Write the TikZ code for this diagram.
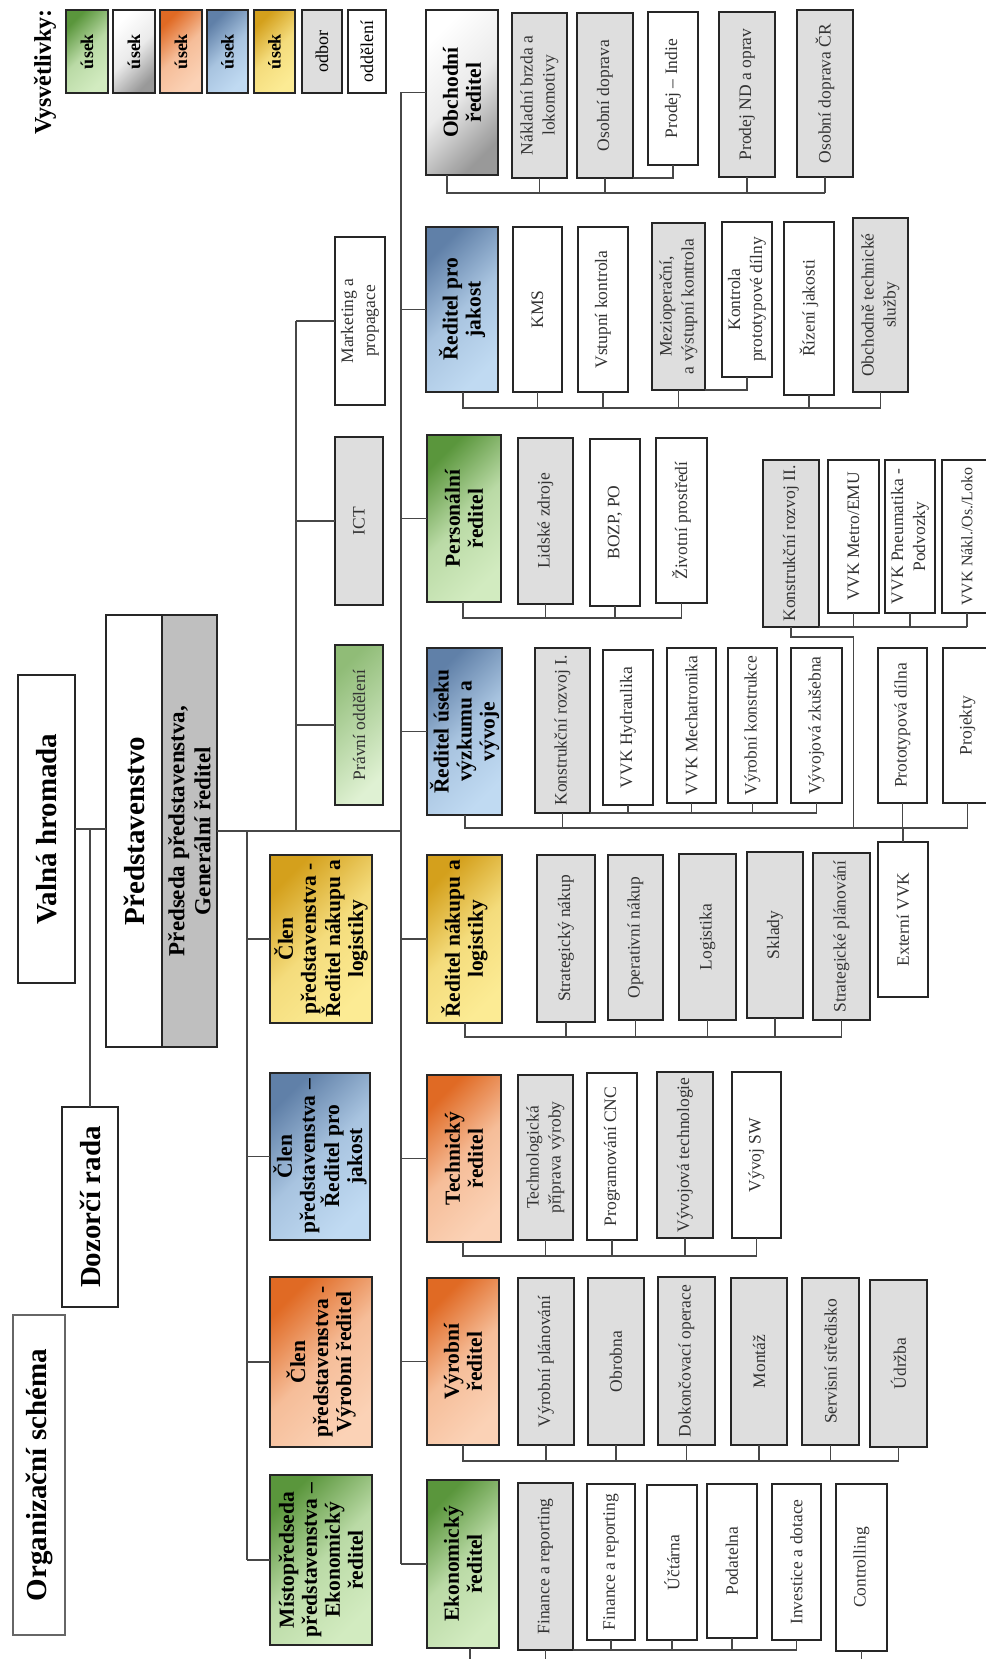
\documentclass[tikz,border=0pt]{standalone}
\usepackage{fontspec}
\setmainfont{Liberation Serif}
\usetikzlibrary{calc}
\definecolor{gD}{HTML}{5A963C}\definecolor{gL}{HTML}{D2EBC0}
\definecolor{oD}{HTML}{E06A24}\definecolor{oL}{HTML}{FBD2B6}
\definecolor{bD}{HTML}{6080A8}\definecolor{bL}{HTML}{C0DAF2}
\definecolor{yD}{HTML}{D4A01C}\definecolor{yL}{HTML}{FCEB94}
\definecolor{odb}{HTML}{DEDEDE}
\newcommand{\BX}[7]{\node[#6, rotate=90, minimum width={#5pt-#3pt}, minimum height={#4pt-#2pt}] (#1) at ({(#2+#4)/2},{(#3+#5)/2}) {#7};}
\tikzset{
  box/.style={draw=black!85, inner sep=0pt, outer sep=0pt, align=center},
  title/.style={box, line width=2.2pt, font=\bfseries\fontsize{29}{32}\selectfont},
  dir/.style={box, line width=2.2pt, font=\bfseries\fontsize{21.5}{23}\selectfont},
  sub/.style={box, line width=1.9pt, font=\fontsize{17.5}{22}\selectfont, text=black!80},
  odbor/.style={sub, fill=odb},
  odd/.style={sub, fill=white},
  leg/.style={box, line width=2pt, font=\fontsize{18}{20}\selectfont},
  shG/.style={top color=gD, bottom color=gL, middle color=gL!80!gD, shading angle=45},
  shO/.style={top color=oD, bottom color=oL, middle color=oL!80!oD, shading angle=45},
  shB/.style={top color=bD, bottom color=bL, middle color=bL!75!bD, shading angle=45},
  shY/.style={top color=yD, bottom color=yL, middle color=yL!80!yD, shading angle=45},
  shW/.style={top color=white, bottom color=black!40, middle color=black!8, shading angle=45},
  shGl/.style={top color=gD!55!gL, bottom color=gL!70!white, shading angle=45},
  ln/.style={draw=black!72, line width=1.5pt},
}
\begin{document}
\begin{tikzpicture}[x=1pt, y=-1pt]
\useasboundingbox (0,0) rectangle (985,1659);
\fill[white] (0,0) rectangle (985,1659);
% legend
\node[rotate=90, font=\bfseries\fontsize{24}{26}\selectfont] (vys) at (45,72) {Vysvětlivky:};
\BX{lg1}{66}{10}{108}{93}{leg, shG}{\bfseries úsek}
\BX{lg2}{113}{10}{155}{93}{leg, shW}{\bfseries úsek}
\BX{lg3}{160}{10}{202}{93}{leg, shO}{\bfseries úsek}
\BX{lg4}{207}{10}{248}{93}{leg, shB}{\bfseries úsek}
\BX{lg5}{254}{10}{295}{93}{leg, shY}{\bfseries úsek}
\BX{lg6}{302}{10}{342}{93}{leg, fill=odb}{odbor}
\BX{lg7}{348}{10}{386}{93}{leg, fill=white}{oddělení}
% top level
\BX{org}{13}{1315}{65}{1635}{title, draw=black!60, line width=1.5pt}{Organizační schéma}
\BX{vh}{18}{675}{75}{983}{title}{Valná hromada}
\BX{dr}{62}{1107}{118}{1307}{title}{Dozorčí rada}
\BX{pred}{106}{615}{162}{1047}{title, fill=white}{Představenstvo}
\BX{gr}{162}{615}{217}{1047}{box, line width=2.2pt, fill=black!25, font=\bfseries\fontsize{23}{26}\selectfont}{Předseda představenstva,\\ Generální ředitel}
% staff
\BX{mkt}{335}{237}{385}{405}{odd}{Marketing a\\ propagace}
\BX{ict}{335}{437}{383}{605}{odbor}{ICT}
\BX{prav}{335}{645}{383}{805}{sub, shGl}{Právní oddělení}
% board members
\BX{cNak}{270}{855}{372}{1023}{dir, shY}{Člen\\ představenstva -\\ Ředitel nákupu a\\ logistiky}
\BX{cJak}{270}{1073}{370}{1240}{dir, shB}{Člen\\ představenstva –\\ Ředitel pro\\ jakost}
\BX{cVyr}{270}{1277}{372}{1447}{dir, shO}{Člen\\ představenstva -\\ Výrobní ředitel}
\BX{cMis}{270}{1475}{372}{1645}{dir, shG}{Místopředseda\\ představenstva –\\ Ekonomický\\ ředitel}
% directors
\BX{obch}{426}{10}{498}{175}{dir, shW}{Obchodní\\ ředitel}
\BX{jak}{426}{227}{498}{392}{dir, shB}{Ředitel pro\\ jakost}
\BX{pers}{427}{435}{501}{602}{dir, shG}{Personální\\ ředitel}
\BX{vyz}{427}{648}{502}{815}{dir, shB}{Ředitel úseku\\ výzkumu a\\ vývoje}
\BX{nak}{427}{855}{502}{1023}{dir, shY}{Ředitel nákupu a\\ logistiky}
\BX{tech}{427}{1075}{501}{1242}{dir, shO}{Technický\\ ředitel}
\BX{vyr}{427}{1278}{499}{1445}{dir, shO}{Výrobní\\ ředitel}
\BX{eko}{427}{1480}{499}{1648}{dir, shG}{Ekonomický\\ ředitel}
% Obchodni
\BX{o1}{512}{13}{567}{178}{odbor}{Nákladní brzda a\\ lokomotivy}
\BX{o2}{577}{13}{633}{178}{odbor}{Osobní doprava}
\BX{o3}{648}{12}{698}{165}{odd}{Prodej – Indie}
\BX{o4}{719}{12}{775}{177}{odbor}{Prodej ND a oprav}
\BX{o5}{797}{10}{853}{177}{odbor}{Osobní doprava ČR}
% jakost
\BX{j1}{513}{227}{562}{392}{odd}{KMS}
\BX{j2}{578}{227}{628}{392}{odd}{Vstupní kontrola}
\BX{j3}{652}{223}{705}{390}{odbor}{Mezioperační,\\ a výstupní kontrola}
\BX{j4}{722}{222}{772}{377}{odd}{Kontrola\\ prototypové dílny}
\BX{j5}{784}{222}{834}{395}{odd}{Řízení jakosti}
\BX{j6}{853}{218}{908}{392}{odbor}{Obchodně technické\\ služby}
% personalni
\BX{p1}{518}{438}{573}{604}{odbor}{Lidské zdroje}
\BX{p2}{590}{439}{640}{606}{odd}{BOZP, PO}
\BX{p3}{656}{438}{707}{603}{odd}{Životní prostředí}
% vyzkum
\BX{v1}{535}{648}{590}{813}{odbor}{Konstrukční rozvoj I.}
\BX{v2}{603}{650}{653}{805}{odd}{VVK Hydraulika}
\BX{v3}{667}{648}{716}{803}{odd}{VVK Mechatronika}
\BX{v4}{728}{648}{777}{803}{odd}{Výrobní konstrukce}
\BX{v5}{791}{648}{842}{803}{odd}{Vývojová zkušebna}
\BX{v6}{878}{648}{927}{803}{odd}{Prototypová dílna}
\BX{v7}{943}{648}{992}{803}{odd}{Projekty}
\BX{k2}{763}{460}{819}{627}{odbor}{Konstrukční rozvoj II.}
\BX{k21}{828}{460}{879}{613}{odd}{VVK Metro/EMU}
\BX{k22}{885}{460}{935}{613}{odd}{VVK Pneumatika -\\ Podvozky}
\BX{k23}{942}{460}{992}{613}{odd, font=\fontsize{16}{20}\selectfont}{VVK Nákl./Os./Loko}
\BX{ext}{878}{842}{928}{997}{odd}{Externí VVK}
% nakup
\BX{n1}{537}{855}{595}{1022}{odbor}{Strategický nákup}
\BX{n2}{608}{855}{663}{1020}{odbor}{Operativní nákup}
\BX{n3}{679}{854}{736}{1020}{odbor}{Logistika}
\BX{n4}{747}{852}{803}{1018}{odbor}{Sklady}
\BX{n5}{813}{853}{870}{1020}{odbor}{Strategické plánování}
% technicky
\BX{t1}{518}{1075}{573}{1240}{odbor}{Technologická\\ příprava výroby}
\BX{t2}{587}{1073}{637}{1240}{odd}{Programování CNC}
\BX{t3}{657}{1072}{713}{1238}{odbor}{Vývojová technologie}
\BX{t4}{732}{1072}{781}{1238}{odd}{Vývoj SW}
% vyrobni
\BX{r1}{518}{1278}{574}{1445}{odbor}{Výrobní plánování}
\BX{r2}{588}{1278}{644}{1445}{odbor}{Obrobna}
\BX{r3}{658}{1277}{715}{1445}{odbor}{Dokončovací operace}
\BX{r4}{731}{1278}{787}{1445}{odbor}{Montáž}
\BX{r5}{802}{1278}{859}{1445}{odbor}{Servisní středisko}
\BX{r6}{870}{1280}{927}{1447}{odbor}{Údržba}
% ekonomicky
\BX{e1}{518}{1483}{573}{1650}{odbor}{Finance a reporting}
\BX{e2}{587}{1484}{635}{1640}{odd}{Finance a reporting}
\BX{e3}{647}{1485}{697}{1640}{odd}{Účtárna}
\BX{e4}{707}{1484}{757}{1638}{odd}{Podatelna}
\BX{e5}{772}{1484}{821}{1640}{odd}{Investice a dotace}
\BX{e6}{836}{1484}{887}{1651}{odd}{Controlling}
% ---------- connectors
\draw[ln] (vh.south) -- (pred.north |- vh.south);
\draw[ln] (dr.east) -- (dr.east |- vh.south);
\coordinate (bx) at (401,0);
\coordinate (cx) at (247,0);
\coordinate (sx) at (296,0);
\draw[ln] (gr.south) -- (bx |- gr.south);
\draw[ln] (bx |- obch.north) -- (bx |- eko.north);
\foreach \n in {obch,jak,pers,vyz,nak,tech,vyr,eko} \draw[ln] (bx |- \n.north) -- (\n.north);
\draw[ln] (cx |- gr.south) -- (cx |- cMis.north);
\foreach \n in {cNak,cJak,cVyr,cMis} \draw[ln] (cx |- \n.north) -- (\n.north);
\draw[ln] (sx |- gr.south) -- (sx |- mkt.north);
\foreach \n in {mkt,ict,prav} \draw[ln] (sx |- \n.north) -- (\n.north);
% obchodni
\draw[ln] (obch.west -| 447,0) -- (447,193) -- (o5.west |- 0,193);
\foreach \n in {o1,o2,o4,o5} \draw[ln] (\n.west) -- (\n.west |- 0,193);
\draw[ln] (o3.west) |- (o2.south west);
% jakost
\draw[ln] (jak.west -| 463,0) -- (463,408) -- (j6.west |- 0,408);
\foreach \n in {j1,j2,j3,j5,j6} \draw[ln] (\n.west) -- (\n.west |- 0,408);
\draw[ln] (j4.west) |- (j3.south west);
% personalni
\draw[ln] (pers.west -| 463,0) -- (463,618) -- (p3.west |- 0,618);
\foreach \n in {p1,p2,p3} \draw[ln] (\n.west) -- (\n.west |- 0,618);
% vyzkum
\draw[ln] (vyz.west -| 465,0) -- (465,828) -- (v7.west |- 0,828);
\foreach \n in {v1,v6,v7} \draw[ln] (\n.west) -- (\n.west |- 0,828);
\draw[ln] (v1.south west) -- (v5.west |- v1.south west);
\foreach \n in {v2,v3,v4,v5} \draw[ln] (\n.west) -- (\n.west |- v1.south west);
\draw[ln] (k2.south west) -- (k23.west |- k2.south west);
\foreach \n in {k21,k22,k23} \draw[ln] (\n.west) -- (\n.west |- k2.south west);
\draw[ln] (k2.west) -- ++(0,10) -| (k21.west |- 0,828);
\draw[ln] (ext.east) -- (ext.east |- 0,828);
% nakup
\draw[ln] (nak.west -| 465,0) -- (465,1037) -- (n5.west |- 0,1037);
\foreach \n in {n1,n2,n3,n4,n5} \draw[ln] (\n.west) -- (\n.west |- 0,1037);
% technicky
\draw[ln] (tech.west -| 463,0) -- (463,1256) -- (t4.west |- 0,1256);
\foreach \n in {t1,t2,t3,t4} \draw[ln] (\n.west) -- (\n.west |- 0,1256);
% vyrobni
\draw[ln] (vyr.west -| 463,0) -- (463,1461) -- (r6.west |- 0,1461);
\foreach \n in {r1,r2,r3,r4,r5,r6} \draw[ln] (\n.west) -- (\n.west |- 0,1461);
% ekonomicky
\draw[ln] (eko.west -| 470,0) -- (470,1662);
\draw[ln] (e1.west) -- (e1.west |- 0,1662);
\draw[ln] (e6.west) -- (e6.west |- 0,1662);
\draw[ln] (e1.south west) -- (e5.west |- e1.south west);
\foreach \n in {e2,e3,e4,e5} \draw[ln] (\n.west) -- (\n.west |- e1.south west);
\end{tikzpicture}
\end{document}
